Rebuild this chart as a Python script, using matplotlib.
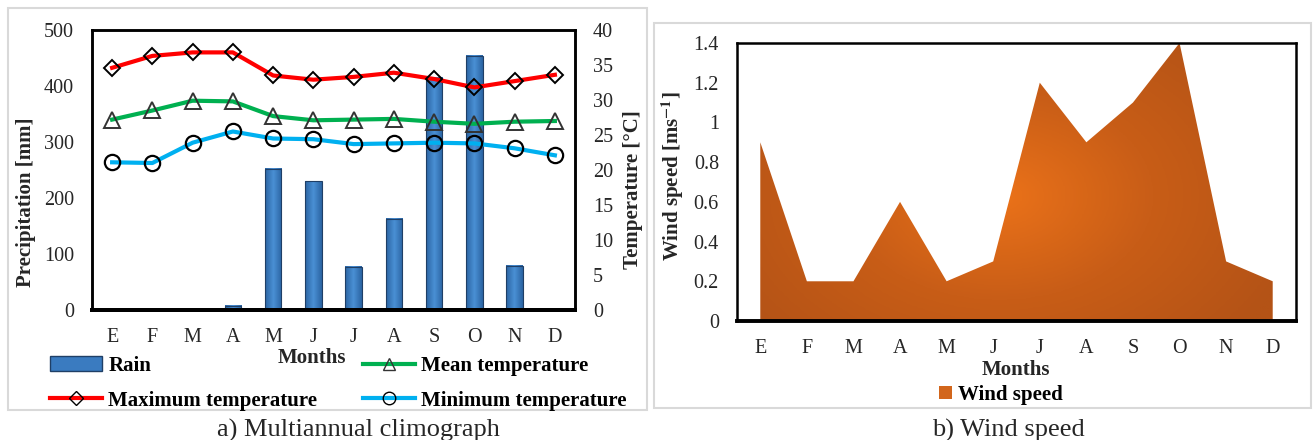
import numpy as np
import matplotlib
matplotlib.use('Agg')
from matplotlib import pyplot as plt
from matplotlib.patches import Patch, PathPatch, Rectangle
from matplotlib.lines import Line2D
from matplotlib.colors import LinearSegmentedColormap
from matplotlib.ticker import FuncFormatter

months = ['E', 'F', 'M', 'A', 'M', 'J', 'J', 'A', 'S', 'O', 'N', 'D']
rain = [0, 0, 0, 8, 252, 230, 77, 163, 415, 454, 79, 0]
t_max = [34.6, 36.3, 36.8, 36.8, 33.5, 32.9, 33.3, 33.9, 33.0, 31.8, 32.7, 33.6]
t_mean = [27.2, 28.5, 29.9, 29.8, 27.7, 27.1, 27.2, 27.3, 26.9, 26.6, 26.9, 27.0]
t_min = [21.1, 21.0, 23.9, 25.5, 24.5, 24.4, 23.7, 23.8, 23.9, 23.8, 23.1, 22.1]
wind = [0.9, 0.2, 0.2, 0.6, 0.2, 0.3, 1.2, 0.9, 1.1, 1.4, 0.3, 0.2]

plt.rcParams['font.family'] = ['Liberation Serif', 'DejaVu Serif']
plt.rcParams['mathtext.fontset'] = 'stix'
tick_font = 14.5
lab_font = {'family': 'Liberation Serif', 'weight': 'bold', 'size': 15}
txt_col = '#262626'

fig = plt.figure(figsize=(13.14, 4.4), dpi=100)
W, H = 1314.0, 440.0

def fx(px):
    return px / W

def fy(py):
    return 1 - py / H

# panel frames
fig.add_artist(Rectangle((fx(8), fy(410)), fx(647 - 8), (402) / H, transform=fig.transFigure,
                         fill=False, edgecolor='#D9D9D9', lw=1.5))
fig.add_artist(Rectangle((fx(654), fy(408)), fx(1311 - 654), (385) / H, transform=fig.transFigure,
                         fill=False, edgecolor='#D9D9D9', lw=1.5))

x = np.arange(len(months))

# ---- a) climograph
ax = fig.add_axes([fx(92), fy(310), fx(575 - 92), 280 / H])
bw = 0.41
bar_cmap = LinearSegmentedColormap.from_list('bar', ['#2B64A3', '#4A90D4', '#2B64A3'])
grad = np.linspace(0, 1, 64).reshape(1, -1)
for xi, r in zip(x, rain):
    if r > 0:
        ax.imshow(grad, extent=[xi - bw / 2, xi + bw / 2, 0, r], aspect='auto',
                  cmap=bar_cmap, zorder=2)
ax.bar(x, rain, width=bw, facecolor='none', edgecolor='#1F3F66', lw=0.8, zorder=3)
ax.set_xlim(-0.5, 11.5)
ax.set_ylim(0, 500)
ax.set_yticks(range(0, 501, 100))
ax.set_xticks(x)
ax.set_xticklabels(months)
ax.tick_params(length=0, labelsize=tick_font, colors=txt_col, pad=13)

ax2 = ax.twinx()
ax2.plot(x, t_max, color='#FF0000', lw=3, marker='D', ms=8, mfc='none', mec='black', mew=1.4)
ax2.plot(x, t_mean, color='#00B050', lw=3, marker='^', ms=11, mfc='none', mec='#333333', mew=1.4)
ax2.plot(x, t_min, color='#00B0F0', lw=3, marker='o', ms=11, mfc='none', mec='black', mew=1.6)
ax2.set_ylim(0, 40)
ax2.set_yticks(range(0, 41, 5))
ax2.tick_params(length=0, labelsize=tick_font, colors=txt_col, pad=13)

for a in (ax, ax2):
    for s in a.spines.values():
        s.set_linewidth(1.8)
        s.set_color('black')
    a.spines['bottom'].set_linewidth(2.8)

fig.text(fx(26), fy(202), 'Precipitation [mm]', rotation=90, ha='center', va='center',
         fontdict=lab_font, color=txt_col)
fig.text(fx(633), fy(190), 'Temperature [°C]', rotation=90, ha='center', va='center',
         fontdict=lab_font, color=txt_col)
fig.text(fx(312), fy(358), 'Months', ha='center', va='center', fontdict=lab_font, color=txt_col)

handles = [Patch(facecolor='#3A7BC0', edgecolor='#1F3F66'),
           Line2D([], [], color='#FF0000', lw=3, marker='D', ms=7, mfc='none', mec='black'),
           Line2D([], [], color='#00B050', lw=3, marker='^', ms=9, mfc='none', mec='#333333'),
           Line2D([], [], color='#00B0F0', lw=3, marker='o', ms=9, mfc='none', mec='black')]
labels = ['Rain', 'Maximum temperature', 'Mean temperature', 'Minimum temperature']
fig.legend(handles, labels, ncol=2, loc='upper left', bbox_to_anchor=(fx(50), fy(356)),
           frameon=False, prop=lab_font, handlelength=2.5, handletextpad=0.3,
           columnspacing=2.2, labelspacing=0.7, borderpad=0, borderaxespad=0)

fig.text(fx(358), fy(430), 'a) Multiannual climograph', ha='center', va='center',
         fontsize=19, color=txt_col)

# ---- b) wind speed
axw = fig.add_axes([fx(737), fy(321), fx(1296 - 737), 278 / H])
axw.set_xlim(-0.5, 11.5)
axw.set_ylim(0, 1.4)
poly = axw.fill_between(x, wind, 0, facecolor='none', edgecolor='none')
clip = PathPatch(poly.get_paths()[0], transform=axw.transData, facecolor='none', edgecolor='none')
axw.add_patch(clip)
gx, gy = np.meshgrid(np.linspace(0, 1, 300), np.linspace(0, 1, 200))
dist = np.sqrt(((gx - 0.47) / 0.55) ** 2 + ((gy - 0.45) / 0.75) ** 2)
dist = np.clip(dist, 0, 1)
wind_cmap = LinearSegmentedColormap.from_list('wind', ['#EB7219', '#C85D17', '#B45316'])
im = axw.imshow(dist, extent=[-0.5, 11.5, 0, 1.4], origin='lower', aspect='auto',
                cmap=wind_cmap, vmin=0, vmax=1, zorder=2)
im.set_clip_path(clip)
axw.set_xlim(-0.5, 11.5)
axw.set_ylim(0, 1.4)
axw.set_xticks(x)
axw.set_xticklabels(months)
axw.set_yticks(np.arange(0, 1.41, 0.2))
axw.yaxis.set_major_formatter(FuncFormatter(lambda v, p: f'{v:g}'))
axw.tick_params(length=0, labelsize=tick_font, colors=txt_col, pad=13)
for s in axw.spines.values():
    s.set_linewidth(1.8)
    s.set_color('black')
axw.spines['bottom'].set_linewidth(2.8)

fig.text(fx(673), fy(176), r'Wind speed [ms$^{\mathbf{-1}}$]', rotation=90, ha='center',
         va='center', fontdict=lab_font, color=txt_col)
fig.text(fx(1016), fy(370), 'Months', ha='center', va='center', fontdict=lab_font, color=txt_col)
fig.legend([Patch(facecolor='#D2661C', edgecolor='none')], ['Wind speed'], loc='center',
           bbox_to_anchor=(fx(1001), fy(395)), frameon=False, prop=lab_font,
           handlelength=0.6, handleheight=0.6, handletextpad=0.3, borderpad=0, borderaxespad=0)

fig.text(fx(1008), fy(430), 'b) Wind speed', ha='center', va='center', fontsize=19, color=txt_col)

fig.savefig('out.png', dpi=100)
